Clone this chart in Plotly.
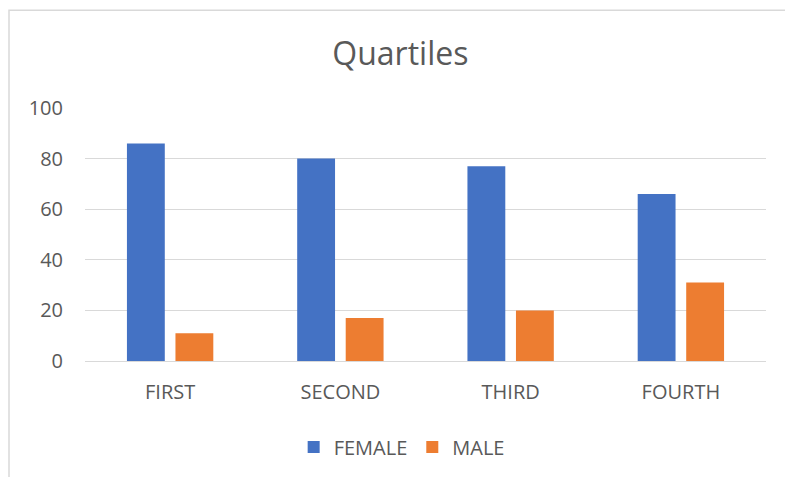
import plotly.graph_objects as go

categories = ["FIRST", "SECOND", "THIRD", "FOURTH"]
female = [86, 80, 77, 66]
male = [11, 17, 20, 31]
y_ticks = [0, 20, 40, 60, 80, 100]

FONT = "Open Sans"
GRAY = "#595959"

fig = go.Figure()
fig.add_trace(go.Bar(name="FEMALE", x=categories, y=female, marker_color="#4472C4", marker_line_width=0))
fig.add_trace(go.Bar(name="MALE", x=categories, y=male, marker_color="#ED7D31", marker_line_width=0))

fig.update_layout(
    width=785, height=477,
    margin=dict(l=85, r=19, t=108, b=115),
    paper_bgcolor="white", plot_bgcolor="white",
    barmode="group", bargap=0.43, bargroupgap=0.22,
    font=dict(family=FONT, color=GRAY, size=20),
    title=dict(text="Quartiles", x=0.51, xanchor="center", y=0.887, yanchor="middle",
               font=dict(family=FONT, size=32, color=GRAY)),
    showlegend=True,
    legend=dict(orientation="h", x=0.465, xanchor="center", y=-0.335, yanchor="middle",
                font=dict(family=FONT, size=20, color=GRAY), itemwidth=30),
    xaxis=dict(showgrid=False, showline=True, linecolor="#d9d9d9", linewidth=1,
               ticks="", ticklabelstandoff=13, tickfont=dict(size=20, color=GRAY)),
    yaxis=dict(range=[0, 100], tickvals=y_ticks, showgrid=True, gridcolor="#d9d9d9",
               gridwidth=1, zeroline=False, showline=False, ticks="",
               ticklabelstandoff=21, tickfont=dict(size=20, color=GRAY)),
    shapes=[dict(type="rect", xref="paper", yref="paper",
                 x0=-0.1116, x1=1.2, y0=-0.5, y1=1.386,
                 line=dict(color="#d9d9d9", width=1.5), fillcolor="rgba(0,0,0,0)", layer="below")],
)

fig.write_html("out.html")
